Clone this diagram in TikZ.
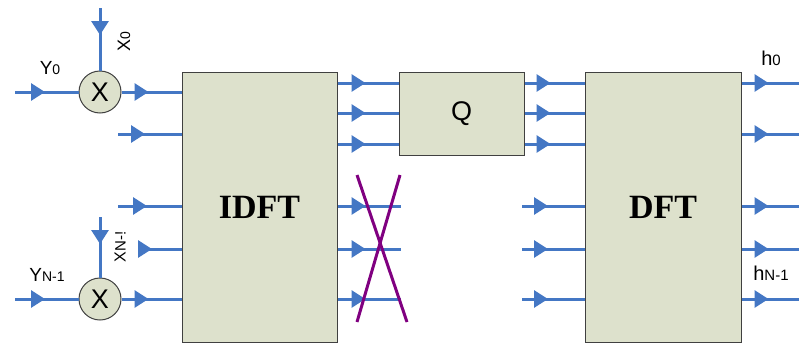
\documentclass[tikz,border=0pt]{standalone}
\usepackage{fontspec}
\setmainfont{Liberation Serif}
\setsansfont{Liberation Sans}
\usetikzlibrary{arrows.meta,decorations.markings}
\definecolor{sigblue}{RGB}{68,119,196}
\definecolor{blkfill}{RGB}{221,225,204}
\definecolor{crosspurple}{RGB}{128,0,128}
\newcommand{\fsz}[1]{\fontsize{#1}{#1}\selectfont}
\tikzset{
  blk/.style={draw=black!75,line width=1pt,fill=blkfill,inner sep=0pt},
  mult/.style={circle,draw=black!75,line width=1pt,fill=blkfill,minimum size=42pt,inner sep=0pt,font=\sffamily\fsz{27}},
  sig/.style={draw=sigblue,line width=3pt,postaction={decorate},
    decoration={markings,mark=at position #1 with {\arrow[sigblue]{Triangle[length=14pt,width=17pt]}}}},
  sig/.default=27pt,
  lbl/.style={font=\sffamily\fsz{19},inner sep=0pt},
  crossout/.style={draw=crosspurple,line width=3pt}
}

\begin{document}
\begin{tikzpicture}[x=1pt,y=-1pt]
  \useasboundingbox (0,0) rectangle (799,343);
  % blocks
  \node[blk,minimum width=155pt,minimum height=270pt,font=\bfseries\fsz{34}] (idft) at (259.5,207) {IDFT};
  \node[blk,minimum width=125pt,minimum height=83pt,font=\sffamily\fsz{27}] (q) at (461.5,113.5) {Q};
  \node[blk,minimum width=156pt,minimum height=270pt,font=\bfseries\fsz{34}] (dft) at (663,207) {DFT};
  \node[mult] (m0) at (100,92) {X};
  \node[mult] (m1) at (100,299) {X};
  % multipliers
  \coordinate (y0in) at (15,92);
  \coordinate (x0in) at (100,8);
  \coordinate (ynin) at (15,299);
  \coordinate (xnin) at (100,217);
  \draw[sig=30pt] (y0in) -- (m0);
  \draw[sig] (x0in) -- (m0);
  \draw[sig] (m0) -- (m0 -| idft.west);
  \draw[sig=30pt] (ynin) -- (m1);
  \draw[sig] (xnin) -- (m1);
  \draw[sig] (m1) -- (m1 -| idft.west);
  % other inputs
  \foreach \y/\x/\p in {134/118/27pt,206/118/29pt,249/138/14pt}{
    \coordinate (in\y) at (\x,\y);
    \draw[sig=\p] (in\y) -- (in\y -| idft.west);
  }
  % idft -> q -> dft
  \foreach \y in {83,113,144}{
    \draw[sig=28pt] (idft.east |- 0,\y) -- (q.west |- 0,\y);
    \draw[sig=26pt] (q.east |- 0,\y) -- (dft.west |- 0,\y);
  }
  % dropped outputs
  \foreach \y in {206,249,299}{
    \coordinate (cut\y) at (401,\y);
    \coordinate (zero\y) at (522,\y);
    \draw[sig=28pt] (idft.east |- cut\y) -- (cut\y);
    \draw[sig=26pt] (zero\y) -- (zero\y -| dft.west);
  }
  \draw[crossout] (357,175) -- (407,322);
  \draw[crossout] (400,175) -- (357,322);
  % outputs
  \foreach \y in {83,134,206,249,299}{
    \coordinate (out\y) at (799,\y);
    \draw[sig] (dft.east |- out\y) -- (out\y);
  }
  % labels
  \node[lbl] (ly0) at (50,68) {Y{\fsz{14}0}};
  \node[lbl] (lyn) at (47,275) {Y{\fsz{14}N-1}};
  \node[lbl,rotate=90,font=\sffamily\fsz{18}] (lx0) at (124,42) {X{\fsz{14}0}};
  \node[lbl,rotate=90,font=\sffamily\fsz{16}] (lxn) at (120,247) {X{\fsz{15}N-!}};
  \node[lbl,font=\sffamily\fsz{20}] (lh0) at (771,58) {h{\fsz{15}0}};
  \node[lbl,font=\sffamily\fsz{20}] (lhn) at (771,273) {h{\fsz{15}N-1}};
\end{tikzpicture}
\end{document}
